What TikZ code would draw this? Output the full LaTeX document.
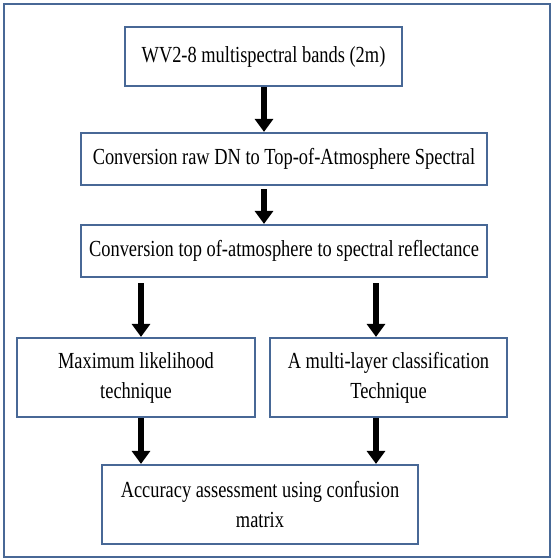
\documentclass[tikz,border=0pt]{standalone}
\usepackage{fontspec}
\setmainfont{Liberation Serif}[FakeStretch=0.80]
\usepackage{tikz}
\usetikzlibrary{arrows.meta}
\definecolor{FlowBoxColor}{RGB}{72,104,150}

\begin{document}
\begin{tikzpicture}[x=1pt,y=-1pt,box/.style n args={2}{draw=FlowBoxColor,line width=2.2pt,minimum width=#1pt,minimum height=#2pt,inner sep=0pt,align=center,font=\fontsize{23}{30}\selectfont,rectangle},fat/.style={line width=6.5pt,-{Triangle[length=13pt,width=18pt]}}]
\useasboundingbox (0,0) rectangle (551,559);
\draw[FlowBoxColor,line width=2pt] (4,4) rectangle (550,557);
\coordinate (cm) at (264,0);
\coordinate (cl) at (141,0);
\coordinate (cr) at (376,0);
   \node[box={277}{59}](n0) at (263.5,56.5) {WV2-8 multispectral bands (2m)};
   \node[box={406}{52}](n1) at (284,159) {Conversion raw DN to Top-of-Atmosphere Spectral};
   \node[box={406}{52}](n2) at (284,251) {Conversion top of-atmosphere to spectral reflectance};
   \node[box={238}{79}](n3) at (136,377.5) {Maximum likelihood\\technique};
   \node[box={237}{79}](n4) at (388.5,377.5) {A multi-layer classification\\Technique};
   \node[box={316}{79}](n5) at (260,504.5) {Accuracy assessment using confusion\\matrix};
\draw[fat] (n0.south -| cm) -- (n1.north -| cm);
\draw[fat,shorten <=3pt] (n1.south -| cm) -- (n2.north -| cm);
\foreach \c/\1 in %
{cl/n3,cr/n4} {
   \draw[fat,shorten <=5pt] (n2.south -| \c) -- (\1.north -| \c);
   \draw[fat] (\1.south -| \c) -- (n5.north -| \c);
}
\end{tikzpicture}
\end{document}
